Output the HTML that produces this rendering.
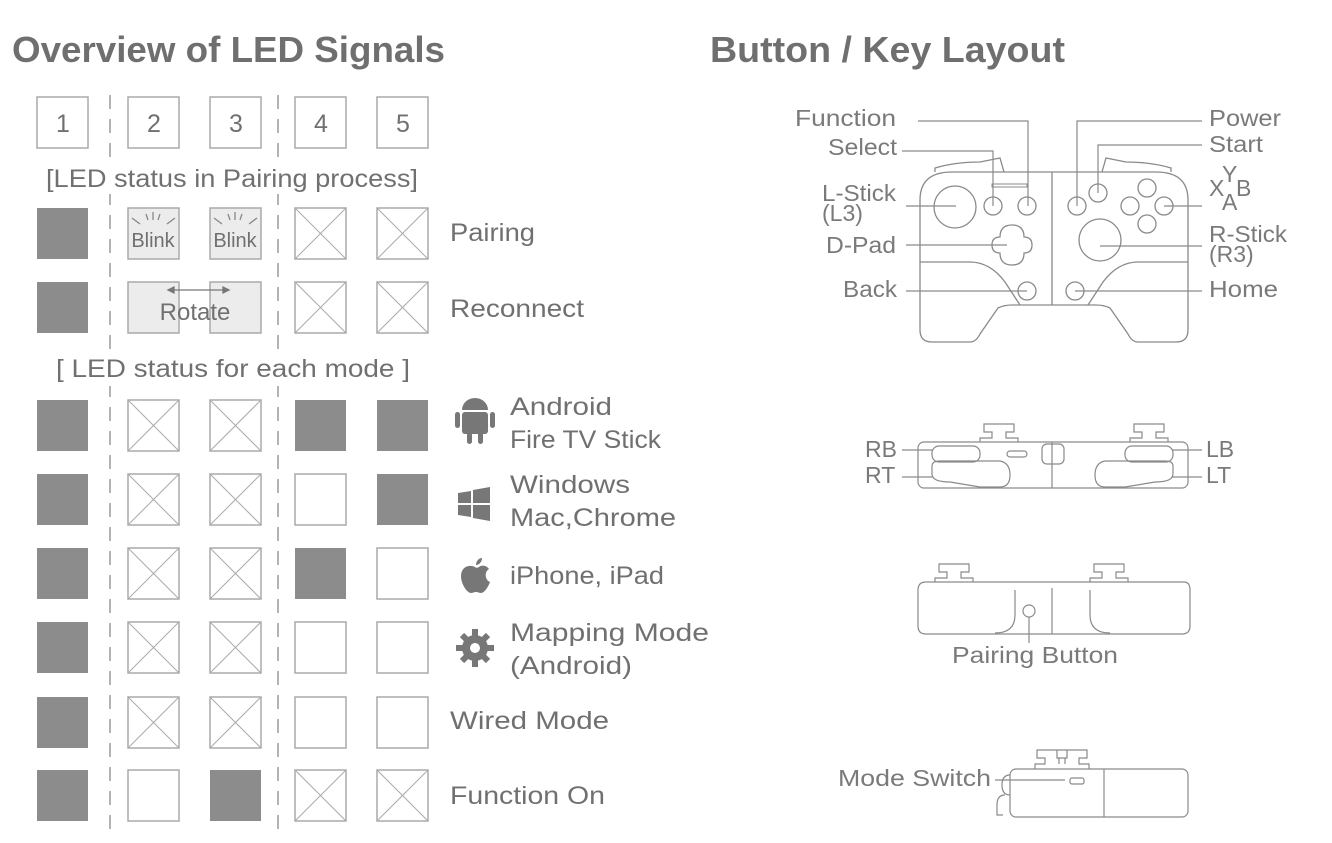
<!DOCTYPE html>
<html><head><meta charset="utf-8"><style>
body{margin:0;background:#fff;}
svg{display:block;font-family:"Liberation Sans","DejaVu Sans",sans-serif;}
</style></head><body>
<svg id="s" width="1332" height="843" viewBox="0 0 1332 843" xmlns="http://www.w3.org/2000/svg">
<text x="12" y="62" font-size="36" font-weight="bold" fill="#6f6f6f" textLength="433" lengthAdjust="spacingAndGlyphs">Overview of LED Signals</text>
<text x="710" y="62" font-size="36" font-weight="bold" fill="#6f6f6f" textLength="355" lengthAdjust="spacingAndGlyphs">Button / Key Layout</text>
<g stroke="#9a9a9a" stroke-width="1.5" stroke-dasharray="14,10">
<line x1="110" y1="95" x2="110" y2="830"/><line x1="278" y1="95" x2="278" y2="830"/>
</g>
<rect x="44" y="160" width="380" height="34" fill="#fff"/>
<rect x="54" y="352" width="360" height="34" fill="#fff"/>
<g font-size="25" fill="#707070" text-anchor="middle">
<text x="63" y="132">1</text><text x="154" y="132">2</text><text x="236" y="132">3</text><text x="321" y="132">4</text><text x="403" y="132">5</text>
</g>
<g font-size="25" fill="#707070" lengthAdjust="spacingAndGlyphs">
<text x="46" y="187" textLength="372" lengthAdjust="spacingAndGlyphs">[LED status in Pairing process]</text>
<text x="56" y="377" textLength="354" lengthAdjust="spacingAndGlyphs">[ LED status for each mode ]</text>
<text x="450" y="241" textLength="85" lengthAdjust="spacingAndGlyphs">Pairing</text>
<text x="450" y="317" textLength="134" lengthAdjust="spacingAndGlyphs">Reconnect</text>
<text x="510" y="415" textLength="102" lengthAdjust="spacingAndGlyphs">Android</text><text x="510" y="448" textLength="151" lengthAdjust="spacingAndGlyphs">Fire TV Stick</text>
<text x="510" y="493" textLength="120" lengthAdjust="spacingAndGlyphs">Windows</text><text x="510" y="526" textLength="166" lengthAdjust="spacingAndGlyphs">Mac,Chrome</text>
<text x="510" y="584" textLength="154" lengthAdjust="spacingAndGlyphs">iPhone, iPad</text>
<text x="510" y="641" textLength="199" lengthAdjust="spacingAndGlyphs">Mapping Mode</text><text x="510" y="674" textLength="122" lengthAdjust="spacingAndGlyphs">(Android)</text>
<text x="450" y="729" textLength="159" lengthAdjust="spacingAndGlyphs">Wired Mode</text>
<text x="450" y="804" textLength="155" lengthAdjust="spacingAndGlyphs">Function On</text>
</g>
<g id="grid"></g>
<!-- icons -->
<g fill="#777">
<rect x="462" y="412" width="26" height="22" rx="3"/><path d="M462 410 a13 12 0 0 1 26 0z"/>
<rect x="455" y="412" width="5" height="16" rx="2.5"/><rect x="490" y="412" width="5" height="16" rx="2.5"/>
<rect x="467" y="430" width="5" height="14" rx="2.5"/><rect x="478" y="430" width="5" height="14" rx="2.5"/>
<path d="M458 493 l13 -2 v12 h-13z M473 490 l17 -3 v16 h-17z M458 505 h13 v12 l-13 -2z M473 505 h17 v16 l-17 -3z"/>
<path d="M475 567 c-6 -3 -14 0 -14 9 c0 8 6 17 10 17 c2 0 3 -1 5 -1 c2 0 3 1 5 1 c4 0 8 -8 9 -11 c-5 -2 -6 -10 -1 -13 c-3 -4 -8 -4 -10 -2 c-2 1 -3 1 -4 0z M476 565 c0 -4 3 -7 6 -7 c0 4 -3 7 -6 7z"/>
<circle cx="475" cy="648" r="13"/>
<g stroke="#777" stroke-width="6"><line x1="475" y1="629" x2="475" y2="667"/><line x1="456" y1="648" x2="494" y2="648"/><line x1="462" y1="635" x2="488" y2="661"/><line x1="488" y1="635" x2="462" y2="661"/></g>
<circle cx="475" cy="648" r="5" fill="#fff"/>
</g>
<!-- controller top -->
<g fill="none" stroke="#8a8a8a" stroke-width="1.3">
<path d="M920 200 q0 -28 32 -28 h204 q32 0 32 28 v130 q0 12 -12 12 h-38 q-6 0 -10 -8 l-18 -26 q-6 -3 -14 -3 h-84 q-8 0 -14 3 l-18 26 q-4 8 -10 8 h-38 q-12 0 -12 -12z"/>
<line x1="1052" y1="172" x2="1052" y2="305"/>
<path d="M920 262 h50 q20 0 35 20 l15 23 M1188 262 h-50 q-20 0 -35 20 l-15 23"/>
<path d="M935 172 v-4 q20 -6 45 -6 l20 -4 l4 14 M1171 172 v-4 q-20 -6 -45 -6 l-20 -4 l-4 14"/>
<circle cx="955" cy="207" r="21"/><circle cx="993" cy="206" r="9"/><circle cx="1027" cy="206" r="9"/>
<circle cx="1077" cy="206" r="9"/><circle cx="1098" cy="193" r="9"/>
<circle cx="1147" cy="188" r="9"/><circle cx="1130" cy="206" r="9"/><circle cx="1164" cy="206" r="9"/><circle cx="1147" cy="224" r="9"/>
<circle cx="1100" cy="240" r="21"/>
<path d="M1000 237 q0 -12 12 -12 q12 0 12 12 q8 0 8 8 q0 8 -8 8 q0 12 -12 12 q-12 0 -12 -12 q-8 0 -8 -8 q0 -8 8 -8z"/>
<circle cx="1027" cy="291" r="9"/><circle cx="1075" cy="291" r="9"/>
<rect x="992" y="184" width="35" height="3" stroke-width="1"/>
</g>
<g stroke="#8a8a8a" stroke-width="1.2" fill="none">
<path d="M918 121 h110 v85 M902 151 h91 v55 M906 206 h50 M906 245 h101 M906 291 h121 M1202 121 h-125 v85 M1202 145 h-104 v48 M1202 206 h-38 M1202 246 h-102 M1202 291 h-127"/>
</g>
<g font-size="23" fill="#7a7a7a">
<text x="795" y="126" textLength="101" lengthAdjust="spacingAndGlyphs">Function</text><text x="828" y="155" textLength="69" lengthAdjust="spacingAndGlyphs">Select</text>
<text x="822" y="201" textLength="74" lengthAdjust="spacingAndGlyphs">L-Stick</text><text x="822" y="221">(L3)</text>
<text x="826" y="253" textLength="70" lengthAdjust="spacingAndGlyphs">D-Pad</text><text x="843" y="297" textLength="54" lengthAdjust="spacingAndGlyphs">Back</text>
<text x="1209" y="126" textLength="72" lengthAdjust="spacingAndGlyphs">Power</text><text x="1209" y="152" textLength="54" lengthAdjust="spacingAndGlyphs">Start</text>
<text x="1209" y="196">X</text><text x="1222" y="182">Y</text><text x="1236" y="196">B</text><text x="1222" y="210">A</text>
<text x="1209" y="242" textLength="78" lengthAdjust="spacingAndGlyphs">R-Stick</text><text x="1209" y="262">(R3)</text>
<text x="1209" y="297" textLength="69" lengthAdjust="spacingAndGlyphs">Home</text>
<text x="865" y="457">RB</text><text x="865" y="483">RT</text>
<text x="1206" y="457">LB</text><text x="1206" y="483">LT</text>
<text x="952" y="663" textLength="166" lengthAdjust="spacingAndGlyphs">Pairing Button</text>
<text x="838" y="786" textLength="153" lengthAdjust="spacingAndGlyphs">Mode Switch</text>
</g>
<!-- top-edge view -->
<g fill="none" stroke="#8a8a8a" stroke-width="1.2">
<rect x="918" y="442" width="270" height="46" rx="6"/>
<line x1="1052" y1="442" x2="1052" y2="488"/>
<rect x="932" y="446" width="48" height="16" rx="7"/><path d="M932 466 q0 -5 8 -5 h60 q10 2 10 14 q0 12 -10 12 h-20 l-30 -5 q-18 0 -18 -8z"/>
<rect x="1125" y="446" width="48" height="16" rx="7"/><path d="M1173 466 q0 -5 -8 -5 h-60 q-10 2 -10 14 q0 12 10 12 h20 l30 -5 q18 0 18 -8z"/>
<rect x="1007" y="451" width="20" height="6" rx="3"/><rect x="1042" y="444" width="22" height="20" rx="5"/>
<path d="M980 442 v-4 h12 v-6 h-8 v-8 h30 v8 h-8 v6 h12 v4 M1130 442 v-4 h12 v-6 h-8 v-8 h30 v8 h-8 v6 h12 v4"/>
<path d="M902 450 h30 M902 477 h30 M1202 450 h-30 M1202 477 h-30"/>
</g>
<!-- bottom view -->
<g fill="none" stroke="#8a8a8a" stroke-width="1.2">
<path d="M918 590 q0 -8 8 -8 h258 q6 0 6 8 v36 q0 8 -8 8 h-256 q-8 0 -8 -8z"/>
<line x1="1052" y1="588" x2="1052" y2="634"/>
<path d="M1015 590 v25 q0 18 -20 18 M1090 590 v25 q0 18 20 18"/>
<circle cx="1029" cy="611" r="6"/><line x1="1029" y1="617" x2="1029" y2="643"/>
<path d="M935 582 v-4 h12 v-6 h-8 v-8 h30 v8 h-8 v6 h12 v4 M1090 582 v-4 h12 v-6 h-8 v-8 h30 v8 h-8 v6 h12 v4"/>
</g>
<!-- side view -->
<g fill="none" stroke="#8a8a8a" stroke-width="1.2">
<rect x="1010" y="769" width="178" height="48" rx="6"/>
<line x1="1104" y1="769" x2="1104" y2="817"/>
<path d="M1010 775 q-8 0 -8 10 q0 10 8 10 M1005 795 q-8 0 -8 10 v10 h6"/>
<rect x="1070" y="778" width="14" height="6" rx="2"/>
<line x1="995" y1="780" x2="1065" y2="780"/>
<path d="M1035 769 v-5 h10 v-6 h-8 v-8 h30 v8 h-8 v6 M1065 764 v-6 h-8 v-8 h30 v8 h-8 v6 h10 v5"/>
</g>
<script>
var g=document.getElementById('grid'),ns='http://www.w3.org/2000/svg';
function el(t,a,p){var e=document.createElementNS(ns,t);for(var k in a)e.setAttribute(k,a[k]);(p||g).appendChild(e);return e;}
var cols=[37,128,210,295,377];
[0,1,2,3,4].forEach(function(i){el('rect',{x:cols[i],y:97,width:51,height:51,fill:'none',stroke:'#aaa','stroke-width':1.5});});
var rows=[[208,'FBBXX'],[282,'FRRXX'],[400,'FXXFF'],[474,'FXXEF'],[548,'FXXFE'],[622,'FXXEE'],[697,'FXXEE'],[770,'FEFXX']];
rows.forEach(function(r){var y=r[0];for(var i=0;i<5;i++){var x=cols[i],c=r[1][i];
 if(c=='F')el('rect',{x:x,y:y,width:51,height:51,fill:'#8c8c8c'});
 else{el('rect',{x:x,y:y,width:51,height:51,fill:(c=='B'||c=='R')?'#ececec':'#fff',stroke:'#aaa','stroke-width':1.5});
  if(c=='X'){el('line',{x1:x,y1:y,x2:x+51,y2:y+51,stroke:'#aaa'});el('line',{x1:x+51,y1:y,x2:x,y2:y+51,stroke:'#aaa'});}
  if(c=='B'){var cx=x+25;el('path',{d:'M'+(x+4)+' '+(y+10)+' l8 6 M'+(x+47)+' '+(y+10)+' l-8 6 M'+(cx)+' '+(y+4)+' v8 M'+(cx-7)+' '+(y+6)+' l2 6 M'+(cx+7)+' '+(y+6)+' l-2 6',stroke:'#888','stroke-width':1.3,fill:'none'});
   var t=el('text',{x:cx,y:y+39,'font-size':20,fill:'#707070','text-anchor':'middle'});t.textContent='Blink';}
 }}});
el('path',{d:'M168 290 h61 M168 290 l6 -3 v6z M229 290 l-6 -3 v6z',stroke:'#777','stroke-width':1.3,fill:'#777'});
var t=el('text',{x:195,y:320,'font-size':24,fill:'#707070','text-anchor':'middle'});t.textContent='Rotate';
</script>
</svg>
</body></html>
